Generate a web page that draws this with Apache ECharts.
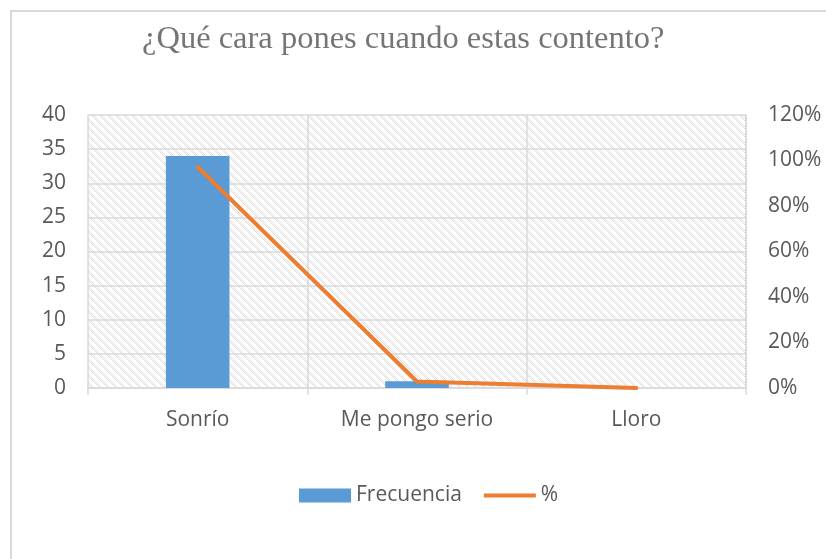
<!DOCTYPE html>
<html>
<head>
<meta charset="utf-8">
<script src="https://cdn.jsdelivr.net/npm/echarts@6/dist/echarts.min.js"></script>
<style>
  html, body { margin: 0; padding: 0; background: #fff; }
  #frame { position: absolute; left: 10px; top: 10px; width: 900px; height: 700px; border-left: 2px solid #d9d9d9; border-top: 2px solid #d9d9d9; }
  #chart { position: absolute; left: 0; top: 0; width: 826px; height: 559px; }
</style>
</head>
<body>
<div id="frame"></div>
<div id="chart"></div>
<script>
  let categories = ['Sonrío', 'Me pongo serio', 'Lloro']
  let frecuencia = [34, 1, 0]
  let porcentaje = [0.9714, 0.0286, 0]

  // fondo rayado tipo Excel
  let pat = document.createElement('canvas')
  pat.width = 8
  pat.height = 8
  let ctx = pat.getContext('2d')
  ctx.fillStyle = '#ffffff'
  ctx.fillRect(0, 0, 8, 8)
  ctx.fillStyle = '#dedede'
  for (let x = 0; x < 8; x++) {
    for (let y = 0; y < 8; y++) {
      let d = ((x - y) % 8 + 8) % 8
      if (d < 4 && (x + y) % 2 == 0) ctx.fillRect(x, y, 1, 1)
    }
  }

  let myChart = echarts.init(document.getElementById('chart'))
  let labelFont = { color: '#595959', fontSize: 21, fontFamily: 'Open Sans' }

  let option = {
    animation: false,
    title: {
      text: '¿Qué cara pones cuando estas contento?',
      left: 137,
      top: 18,
      textStyle: { fontFamily: 'Liberation Serif', fontWeight: 'normal', fontSize: 32.5, color: '#757575' }
    },
    legend: {
      bottom: 48,
      left: 294,
      itemWidth: 52,
      itemHeight: 14,
      itemGap: 22,
      textStyle: labelFont,
      data: [
        { name: 'Frecuencia', icon: 'rect' },
        { name: '%', icon: 'path://M0,5 L52,5 L52,9 L0,9 Z' }
      ]
    },
    grid: {
      left: 88,
      right: 80,
      top: 115,
      bottom: 171,
      show: true,
      borderWidth: 0,
      backgroundColor: { image: pat, repeat: 'repeat' }
    },
    xAxis: {
      type: 'category',
      data: categories,
      axisLine: { lineStyle: { color: '#d9d9d9', width: 1.5 } },
      axisTick: { show: true, length: 7, lineStyle: { color: '#d9d9d9', width: 1.5 } },
      axisLabel: Object.assign({ margin: 22 }, labelFont),
      splitLine: { show: true, lineStyle: { color: '#d9d9d9', width: 1.5 } }
    },
    yAxis: [
      {
        type: 'value',
        min: 0,
        max: 40,
        interval: 5,
        axisLine: { show: false },
        axisTick: { show: false },
        axisLabel: Object.assign({ margin: 22 }, labelFont),
        splitLine: { lineStyle: { color: '#d9d9d9', width: 1.5 } }
      },
      {
        type: 'value',
        min: 0,
        max: 1.2,
        interval: 0.2,
        position: 'right',
        axisLine: { show: true, lineStyle: { color: '#d9d9d9', width: 1.5 } },
        axisTick: { show: false },
        axisLabel: Object.assign({
          margin: 22,
          formatter: function (v) { return Math.round(v * 100) + '%' }
        }, labelFont),
        splitLine: { show: false }
      }
    ],
    series: [
      {
        name: 'Frecuencia',
        type: 'bar',
        barWidth: '29%',
        yAxisIndex: 0,
        itemStyle: { color: '#5b9bd5' },
        data: frecuencia
      },
      {
        name: '%',
        type: 'line',
        yAxisIndex: 1,
        symbol: 'none',
        lineStyle: { color: '#ed7d31', width: 4, cap: 'round' },
        itemStyle: { color: '#ed7d31' },
        data: porcentaje
      }
    ]
  }

  myChart.setOption(option)
</script>
</body>
</html>
